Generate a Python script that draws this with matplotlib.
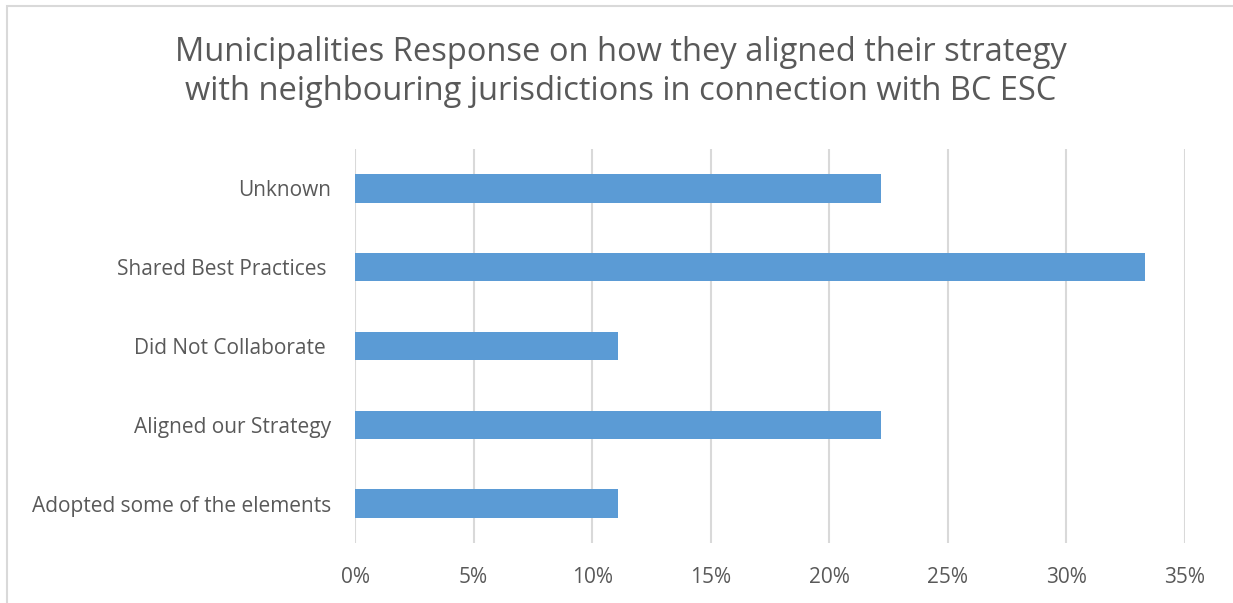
import matplotlib.pyplot as plt
from matplotlib.patches import Rectangle
from matplotlib.ticker import PercentFormatter

categories = [
    "Adopted some of the elements",
    "Aligned our Strategy",
    "Did Not Collaborate ",
    "Shared Best Practices ",
    "Unknown",
]
shares = [11.1, 22.2, 11.1, 33.3, 22.2]
x_ticks = [0, 5, 10, 15, 20, 25, 30, 35]

TEXT = "#595959"
BAR = "#5B9BD5"
GRID = "#D9D9D9"

plt.rcParams["font.family"] = ["Open Sans", "DejaVu Sans"]

fig = plt.figure(figsize=(12.33, 6.03), dpi=100)
W, H = 1233, 603
ax = fig.add_axes([355 / W, 1 - 543 / H, (1185 - 355) / W, (543 - 149) / H])

ax.barh(range(len(categories)), shares, height=0.36, color=BAR, zorder=3)

ax.set_xlim(0, 35)
ax.set_ylim(-0.5, len(categories) - 0.5)
ax.set_xticks(x_ticks)
ax.xaxis.set_major_formatter(PercentFormatter(decimals=0))
ax.set_yticks(range(len(categories)))
ax.set_yticklabels(categories)
ax.tick_params(axis="both", length=0, labelsize=15, colors=TEXT)
ax.tick_params(axis="y", pad=17)
ax.tick_params(axis="x", pad=17)
ax.grid(axis="x", color=GRID, linewidth=1.5, zorder=0)
for side in ax.spines.values():
    side.set_visible(False)

fig.text(621 / W, 1 - 72 / H,
         "Municipalities Response on how they aligned their strategy\n"
         "with neighbouring jurisdictions in connection with BC ESC",
         ha="center", va="center", fontsize=23.5, color=TEXT, linespacing=1.27)

# light chart-area frame
fig.patches.append(Rectangle((6.5 / W, -0.05), 1.2, 1 - 5.5 / H + 0.05,
                             transform=fig.transFigure, fill=False,
                             edgecolor=GRID, linewidth=1.5))

fig.savefig("out.png", dpi=100)
